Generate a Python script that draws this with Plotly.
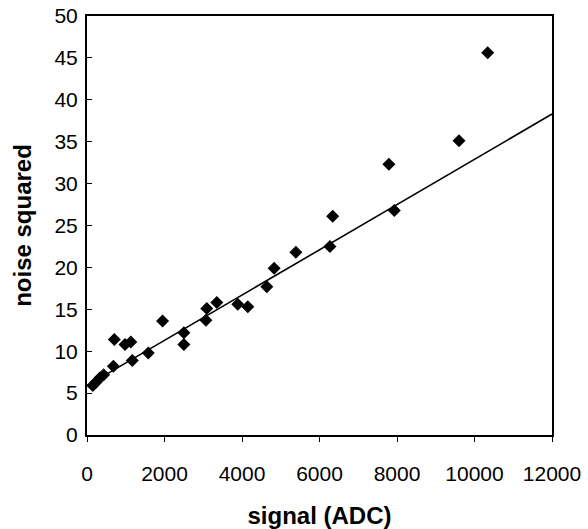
import plotly.graph_objects as go

signal_adc = [150, 230, 330, 430, 680, 705, 980, 1130, 1170, 1580, 1950,
              2500, 2500, 3070, 3090, 3350, 3890, 4150, 4640, 4830, 5390,
              6270, 6340, 7790, 7930, 9600, 10340]
noise_squared = [5.9, 6.3, 6.8, 7.2, 8.2, 11.4, 10.8, 11.1, 8.9, 9.8, 13.6,
                 12.2, 10.8, 13.7, 15.1, 15.8, 15.6, 15.3, 17.7, 19.9, 21.8,
                 22.5, 26.1, 32.3, 26.8, 35.1, 45.6]

fit_intercept = 5.9
fit_slope = 0.0027
fit_x = [0, 12000]
fit_y = [fit_intercept + fit_slope * v for v in fit_x]

x_ticks = [0, 2000, 4000, 6000, 8000, 10000, 12000]
y_ticks = [0, 5, 10, 15, 20, 25, 30, 35, 40, 45, 50]

FONT = "Liberation Sans, Arial, sans-serif"

fig = go.Figure()
fig.add_trace(go.Scatter(x=fit_x, y=fit_y, mode="lines",
                         line=dict(color="black", width=1.6),
                         showlegend=False, hoverinfo="skip"))
fig.add_trace(go.Scatter(x=signal_adc, y=noise_squared, mode="markers",
                         marker=dict(symbol="diamond", size=10, color="black",
                                     line=dict(width=0)),
                         showlegend=False))

fig.update_layout(
    width=588, height=529,
    margin=dict(l=87, r=36, t=16, b=94),
    paper_bgcolor="white", plot_bgcolor="white",
    font=dict(family=FONT, size=21, color="black"),
)
fig.update_xaxes(
    range=[0, 12000], tickvals=x_ticks, ticktext=[str(v) for v in x_ticks],
    showgrid=False, zeroline=False, automargin=False,
    showline=True, mirror=True, linecolor="black", linewidth=2,
    ticks="outside", ticklen=5, tickcolor="black", tickwidth=1,
    ticklabelstandoff=14, ticklabeloverflow="allow",
    title=dict(text="<b>signal (ADC)</b>", font=dict(size=24), standoff=25),
)
fig.update_yaxes(
    range=[0, 50], tickvals=y_ticks,
    showgrid=False, zeroline=False, automargin=False,
    showline=True, mirror=True, linecolor="black", linewidth=2,
    ticks="inside", ticklen=5, tickcolor="black", tickwidth=1,
    ticklabelstandoff=3, ticklabeloverflow="allow",
    title=dict(text="<b>noise squared</b>", font=dict(size=24), standoff=16),
)

# remove the browser's default page margin so the figure fills the window
fig.write_html(
    "out.html",
    config={"displayModeBar": False},
    post_script="document.body.style.margin='0';"
                "document.body.style.overflow='hidden';",
)
